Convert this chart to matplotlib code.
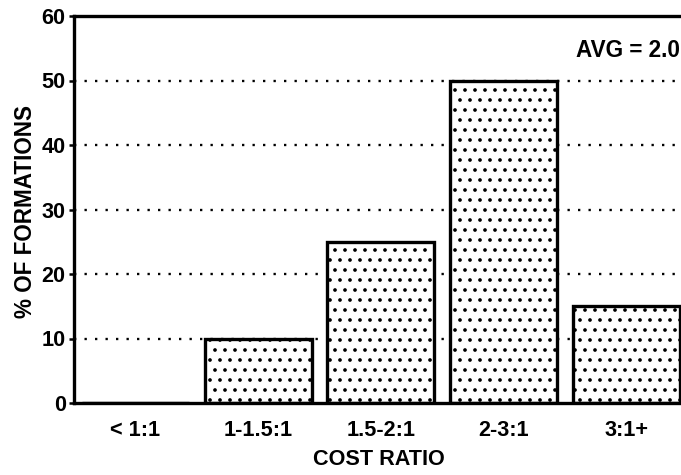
import matplotlib.pyplot as plt
import numpy as np

# cost ratio distribution
categories = ['< 1:1', '1-1.5:1', '1.5-2:1', '2-3:1', '3:1+']
pct_formations = [0, 10, 25, 50, 15]
avg_ratio = 2.0

plt.rcParams['font.family'] = ['Liberation Sans', 'DejaVu Sans']
plt.rcParams['font.weight'] = 'bold'
plt.rcParams['hatch.linewidth'] = 1.0

fig = plt.figure(figsize=(681 / 120, 475 / 120), dpi=120)
ax = fig.add_axes([74 / 681, 1 - 403 / 475, 1 - 74 / 681, (403 - 16) / 475])

x = np.arange(len(categories))

# dotted reference lines behind the bars
for yv in range(10, 60, 10):
    ax.axhline(yv, color='black', lw=1.4, linestyle=(0, (1, 3.5)), zorder=1)

ax.bar(x, pct_formations, width=0.87, facecolor='white', edgecolor='black',
       linewidth=2, hatch='..', zorder=2)

ax.set_xlim(-0.5, 4.445)
ax.set_ylim(0, 60)
ax.set_yticks(range(0, 61, 10))
ax.set_xticks(x)
ax.set_xticklabels(categories)
ax.tick_params(axis='x', length=0, pad=10, labelsize=13)
ax.tick_params(axis='y', length=3, width=1.5, pad=2, labelsize=13)

for side in ['left', 'bottom', 'top']:
    ax.spines[side].set_linewidth(2)
ax.spines['right'].set_visible(False)

ax.set_xlabel('COST RATIO', fontsize=13, fontweight='bold')
ax.xaxis.label.set_va('center')
ax.xaxis.set_label_coords(0.503, -0.145)
ax.set_ylabel('% OF FORMATIONS', fontsize=13.5, fontweight='bold')
ax.yaxis.label.set_va('center')
ax.yaxis.set_label_coords(-0.08, 0.494)

ax.text(0.998, 0.91, f'AVG = {avg_ratio:.1f}', transform=ax.transAxes,
        ha='right', va='center', fontsize=13.5, fontweight='bold')

fig.savefig('out.png', dpi=120)
